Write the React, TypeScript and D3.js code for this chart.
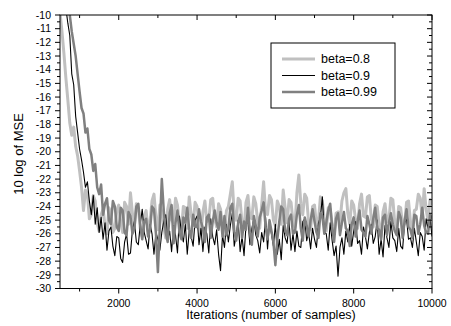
import React from 'react';
import * as d3 from 'd3';

const W = 451;
const H = 326;

// sample grid: 500..10000 step 50
const samples: number[] = d3.range(500, 10001, 50);

const seriesNames = ['beta=0.8', 'beta=0.9', 'beta=0.99'];

const beta08: number[] = [
  -9.8, -11.2, -12.8, -14.6, -16.2, -17.9, -18.8, -18.2, -19.6, -20.3,
  -21.4, -22.6, -24.3, -22.8, -23.1, -24.9, -24.6, -23.2, -23.6, -25.2,
  -25.8, -24.6, -24.2, -25.4, -26.0, -24.1, -24.4, -25.9, -25.6, -24.3,
  -23.9, -25.1, -25.9, -23.7, -24.0, -25.3, -23.0, -24.5, -25.4, -23.8,
  -24.1, -25.6, -26.2, -24.7, -24.3, -25.8, -25.1, -23.6, -23.1, -24.8,
  -25.7, -23.9, -24.4, -25.5, -26.3, -24.2, -23.5, -25.0, -25.2, -23.4,
  -23.9, -25.3, -25.8, -24.0, -24.1, -25.6, -23.3, -24.6, -25.4, -23.7,
  -24.0, -25.2, -26.0, -24.4, -23.6, -25.1, -25.0, -23.5, -23.4, -24.9,
  -25.5, -23.8, -24.2, -25.4, -26.1, -24.3, -24.0, -23.1, -22.2, -24.6,
  -25.0, -23.4, -23.6, -25.2, -25.7, -23.7, -23.2, -24.8, -24.9, -23.3,
  -23.8, -25.1, -25.6, -23.9, -22.2, -24.4, -24.6, -23.2, -23.5, -25.0,
  -25.4, -23.6, -24.0, -25.3, -22.8, -24.1, -25.2, -23.5, -23.7, -25.1,
  -25.5, -23.0, -21.7, -23.8, -24.6, -23.1, -23.4, -25.2, -25.7, -24.0,
  -23.9, -25.4, -25.1, -23.3, -23.6, -25.0, -25.8, -24.1, -24.2, -25.5,
  -26.0, -24.5, -24.4, -25.2, -23.6, -23.0, -22.7, -24.5, -25.3, -23.6,
  -23.9, -25.0, -25.6, -23.8, -23.1, -24.7, -24.8, -23.3, -23.2, -24.9,
  -25.5, -23.9, -24.0, -25.3, -26.2, -24.4, -23.8, -25.1, -25.0, -23.4,
  -23.5, -25.2, -25.7, -24.0, -24.1, -25.4, -25.3, -23.7, -23.6, -25.1,
  -25.9, -24.3, -24.2, -23.1, -23.4, -24.8, -22.7, -24.2, -25.1, -23.5,
  -23.9,
];

const beta09: number[] = [
  -5.5, -7.0, -8.3, -9.5, -10.6, -11.5, -14.3, -15.1, -17.4, -18.6,
  -19.8, -20.6, -21.5, -22.6, -22.2, -23.6, -24.6, -23.2, -25.3, -24.1,
  -25.9, -24.8, -26.4, -25.2, -27.2, -25.8, -25.5, -26.9, -27.6, -26.2,
  -26.3, -27.8, -28.1, -26.6, -26.0, -27.5, -27.4, -25.7, -25.1, -26.6,
  -26.8, -25.3, -24.2, -25.9, -26.5, -27.1, -25.3, -26.0, -27.5, -25.9,
  -26.4, -27.2, -25.9, -25.1, -24.6, -26.4, -25.8, -27.3, -25.4, -26.1,
  -27.4, -24.7, -25.9, -26.6, -25.3, -27.5, -25.8, -26.2, -26.9, -25.0,
  -24.7, -26.8, -25.6, -27.3, -25.5, -26.0, -27.4, -24.9, -26.2, -26.8,
  -25.7, -27.5, -28.7, -26.1, -27.0, -25.3, -26.6, -25.4, -24.5, -26.9,
  -26.1, -25.0, -27.3, -26.2, -27.6, -25.4, -25.0, -26.8, -25.6, -24.9,
  -26.1, -26.5, -27.4, -25.9, -26.6, -24.8, -27.1, -25.2, -26.0, -26.9,
  -25.3, -27.5, -26.4, -27.9, -25.4, -26.3, -26.7, -25.1, -27.2, -26.0,
  -27.3, -25.8, -26.9, -27.0, -25.1, -24.9, -26.5, -25.9, -27.1, -25.6,
  -26.4, -27.0, -25.2, -24.8, -23.3, -25.9, -26.0, -27.2, -25.2, -26.5,
  -27.6, -26.9, -29.1, -27.0, -26.3, -27.5, -25.8, -26.6, -25.3, -26.9,
  -25.8, -25.1, -26.7, -26.5, -27.5, -25.5, -26.2, -27.1, -25.9, -25.3,
  -26.7, -26.2, -25.0, -27.5, -26.4, -27.7, -25.4, -26.3, -27.0, -25.1,
  -26.3, -26.5, -27.3, -25.6, -26.9, -27.1, -25.2, -24.9, -26.4, -26.3,
  -27.0, -25.6, -26.6, -27.6, -25.9, -26.2, -27.2, -24.9, -25.6, -24.8,
  -26.2,
];

const beta099: number[] = [
  -6.5, -7.2, -8.0, -8.6, -9.3, -10.0, -11.2, -12.1, -13.0, -14.3,
  -15.6, -16.8, -17.2, -18.6, -18.3, -19.8, -20.2, -21.4, -20.9, -22.6,
  -23.1, -22.4, -24.6, -23.8, -23.4, -25.0, -25.3, -23.6, -24.0, -25.5,
  -25.8, -24.1, -24.3, -25.9, -26.1, -24.4, -24.7, -26.0, -25.6, -24.0,
  -23.8, -25.4, -26.4, -25.1, -24.9, -26.2, -25.7, -24.0, -24.2, -26.0,
  -28.8, -25.4, -22.0, -24.3, -25.9, -26.6, -24.5, -23.9, -26.7, -25.2,
  -24.3, -25.9, -26.4, -24.8, -25.2, -24.1, -25.7, -26.3, -24.6, -25.5,
  -25.5, -24.2, -25.1, -25.6, -26.6, -24.8, -24.6, -26.3, -25.1, -24.3,
  -25.2, -25.7, -24.4, -26.2, -24.7, -26.1, -25.6, -24.1, -23.8, -25.8,
  -26.5, -25.2, -24.6, -26.3, -25.1, -25.7, -24.1, -25.9, -26.8, -24.7,
  -25.4, -26.2, -24.8, -24.3, -23.7, -25.5, -26.4, -25.0, -25.8, -26.6,
  -28.3, -26.4, -25.1, -24.0, -24.2, -25.8, -26.1, -24.9, -24.6, -26.0,
  -25.9, -24.6, -23.9, -25.6, -26.5, -24.8, -25.4, -26.2, -25.0, -24.2,
  -25.1, -25.9, -26.3, -24.5, -24.7, -26.0, -25.2, -24.3, -23.8, -25.5,
  -26.6, -24.9, -24.5, -26.1, -25.2, -24.4, -25.6, -25.8, -26.9, -25.3,
  -24.8, -26.2, -25.1, -24.3, -25.7, -25.9, -26.2, -24.7, -25.3, -26.0,
  -24.9, -24.1, -25.6, -25.7, -26.4, -24.8, -24.6, -26.1, -25.2, -24.5,
  -25.3, -25.8, -26.1, -24.4, -24.8, -26.3, -25.1, -24.2, -25.5, -25.7,
  -26.3, -24.6, -24.7, -26.0, -25.3, -24.1, -25.4, -25.9, -26.0, -24.6,
  -24.9,
];

const xMajorTicks = [2000, 4000, 6000, 8000, 10000];
const xMinorTicks = [1000, 3000, 5000, 7000, 9000];
const yMajorTicks = d3.range(-10, -30.5, -1);
const yMinorTicks = d3.range(-10.5, -30, -1);

const seriesData = [beta08, beta09, beta099];
const colors = ['#c0c0c0', '#000000', '#808080'];
const widths = [3, 1.1, 2.5];

export default function App() {
  const left = 60, right = 432, top = 15, bottom = 288.5;
  const x = d3.scaleLinear().domain([500, 10000]).range([left, right]);
  const y = d3.scaleLinear().domain([-30, -10]).range([bottom, top]);
  const line = d3
    .line<number>()
    .defined((d, i) => samples[i] !== undefined && Number.isFinite(d))
    .x((_, i) => x(samples[i]))
    .y((d) => y(d));
  const font = 'Arial, "Liberation Sans", sans-serif';

  return (
    <svg width={W} height={H} style={{ position: 'absolute', left: 0, top: 0, background: '#fff' }}>
      <defs>
        <clipPath id="plotclip">
          <rect x={left} y={top} width={right - left} height={bottom - top} />
        </clipPath>
      </defs>
      <rect x={0} y={0} width={W} height={H} fill="#fff" />
      <g clipPath="url(#plotclip)">
        {seriesData.map((s, k) => (
          <path key={k} d={line(s) || ''} fill="none" stroke={colors[k]} strokeWidth={widths[k]} strokeLinejoin="round" />
        ))}
      </g>
      {/* frame */}
      <rect x={left} y={top} width={right - left} height={bottom - top} fill="none" stroke="#000" strokeWidth={1} />
      {/* x ticks */}
      {xMajorTicks.map((t) => (
        <g key={'xm' + t}>
          <line x1={x(t)} x2={x(t)} y1={bottom} y2={bottom + 5} stroke="#000" />
          <line x1={x(t)} x2={x(t)} y1={top} y2={top + 5} stroke="#000" />
          <text x={x(t)} y={bottom + 18} textAnchor="middle" fontFamily={font} fontSize={10.5}>{t}</text>
        </g>
      ))}
      {xMinorTicks.map((t) => (
        <g key={'xn' + t}>
          <line x1={x(t)} x2={x(t)} y1={bottom} y2={bottom + 3} stroke="#000" />
          <line x1={x(t)} x2={x(t)} y1={top} y2={top + 3} stroke="#000" />
        </g>
      ))}
      {/* y ticks */}
      {yMajorTicks.map((t) => (
        <g key={'ym' + t}>
          <line x1={left - 5} x2={left} y1={y(t)} y2={y(t)} stroke="#000" />
          <line x1={right - 5} x2={right} y1={y(t)} y2={y(t)} stroke="#000" />
          <text x={left - 9} y={y(t)} dy="0.35em" textAnchor="end" fontFamily={font} fontSize={10.5}>{t}</text>
        </g>
      ))}
      {yMinorTicks.map((t) => (
        <g key={'yn' + t}>
          <line x1={left - 3} x2={left} y1={y(t)} y2={y(t)} stroke="#000" />
          <line x1={right - 3} x2={right} y1={y(t)} y2={y(t)} stroke="#000" />
        </g>
      ))}
      {/* axis titles */}
      <text x={271} y={319} textAnchor="middle" fontFamily={font} fontSize={12.5}>
        Iterations (number of samples)
      </text>
      <text transform={`translate(23, 154) rotate(-90)`} textAnchor="middle" fontFamily={font} fontSize={13}>
        10 log of MSE
      </text>
      {/* legend */}
      <rect x={271} y={43} width={124} height={65} fill="#fff" stroke="#000" strokeWidth={1} />
      {seriesNames.map((n, k) => (
        <g key={n}>
          <line x1={282} x2={315} y1={59 + k * 16.5} y2={59 + k * 16.5} stroke={colors[k]} strokeWidth={widths[k]} />
          <text x={321} y={59 + k * 16.5} dy="0.35em" fontFamily={font} fontSize={12.5}>{n}</text>
        </g>
      ))}
    </svg>
  );
}
